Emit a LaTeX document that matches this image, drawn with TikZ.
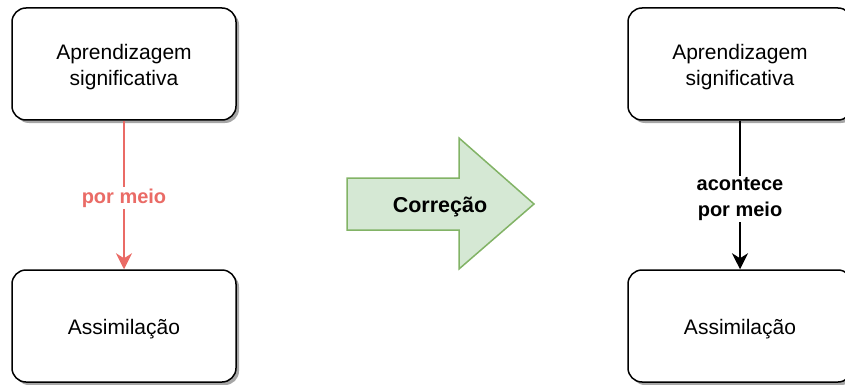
\documentclass[tikz,border=0pt]{standalone}
\usepackage{fontspec}
\setmainfont{Liberation Sans}
\usetikzlibrary{arrows.meta,shadows}
\definecolor{redline}{HTML}{EA6B66}
\definecolor{greenfill}{HTML}{D5E8D4}
\definecolor{greenline}{HTML}{82B366}
\begin{document}
\begin{tikzpicture}[x=1pt,y=-1pt,
  conceptbox/.style={draw,line width=1.5pt,rounded corners=14pt,fill=white,
    minimum width=224pt,minimum height=112pt,
    drop shadow={shadow xshift=3pt,shadow yshift=-3pt,fill=black!35,opacity=1}},
  boxtext/.style={align=center,font=\fontsize{21}{26}\selectfont},
  linklabel/.style={fill=white,align=center,inner sep=2pt,
    font=\bfseries\fontsize{20}{25.5}\selectfont},
  linkarrow/.style={line width=1.5pt,-{Stealth[length=16pt,width=16pt,inset=5pt]}}]

\useasboundingbox (0,0) rectangle (845,385);

\node [conceptbox] (v1) at (124,64) {};
\node [conceptbox] (v2) at (124,326) {};
\node [conceptbox] (v3) at (740,64) {};
\node [conceptbox] (v4) at (740,326) {};
\node [boxtext] at ([yshift=-3pt]v1.center) {Aprendizagem\\significativa};
\node [boxtext] at ([yshift=-3pt]v2.center) {Assimilação};
\node [boxtext] at ([yshift=-3pt]v3.center) {Aprendizagem\\significativa};
\node [boxtext] at ([yshift=-3pt]v4.center) {Assimilação};

\draw [linkarrow,redline] (v1) -- (v2) node [linklabel,text=redline,midway,yshift=-3pt] {por meio};
\draw [linkarrow] (v3) -- (v4) node [linklabel,midway,yshift=-4pt] {acontece\\por meio};

\draw [fill=greenfill,draw=greenline,line width=1.5pt]
  (347,178) -- (459,178) -- (459,138) -- (534,204) -- (459,269) -- (459,230) -- (347,230) -- cycle;
\node [font=\bfseries\fontsize{21.5}{26}\selectfont] (v5) at (440,207) {Correção};
\end{tikzpicture}
\end{document}
